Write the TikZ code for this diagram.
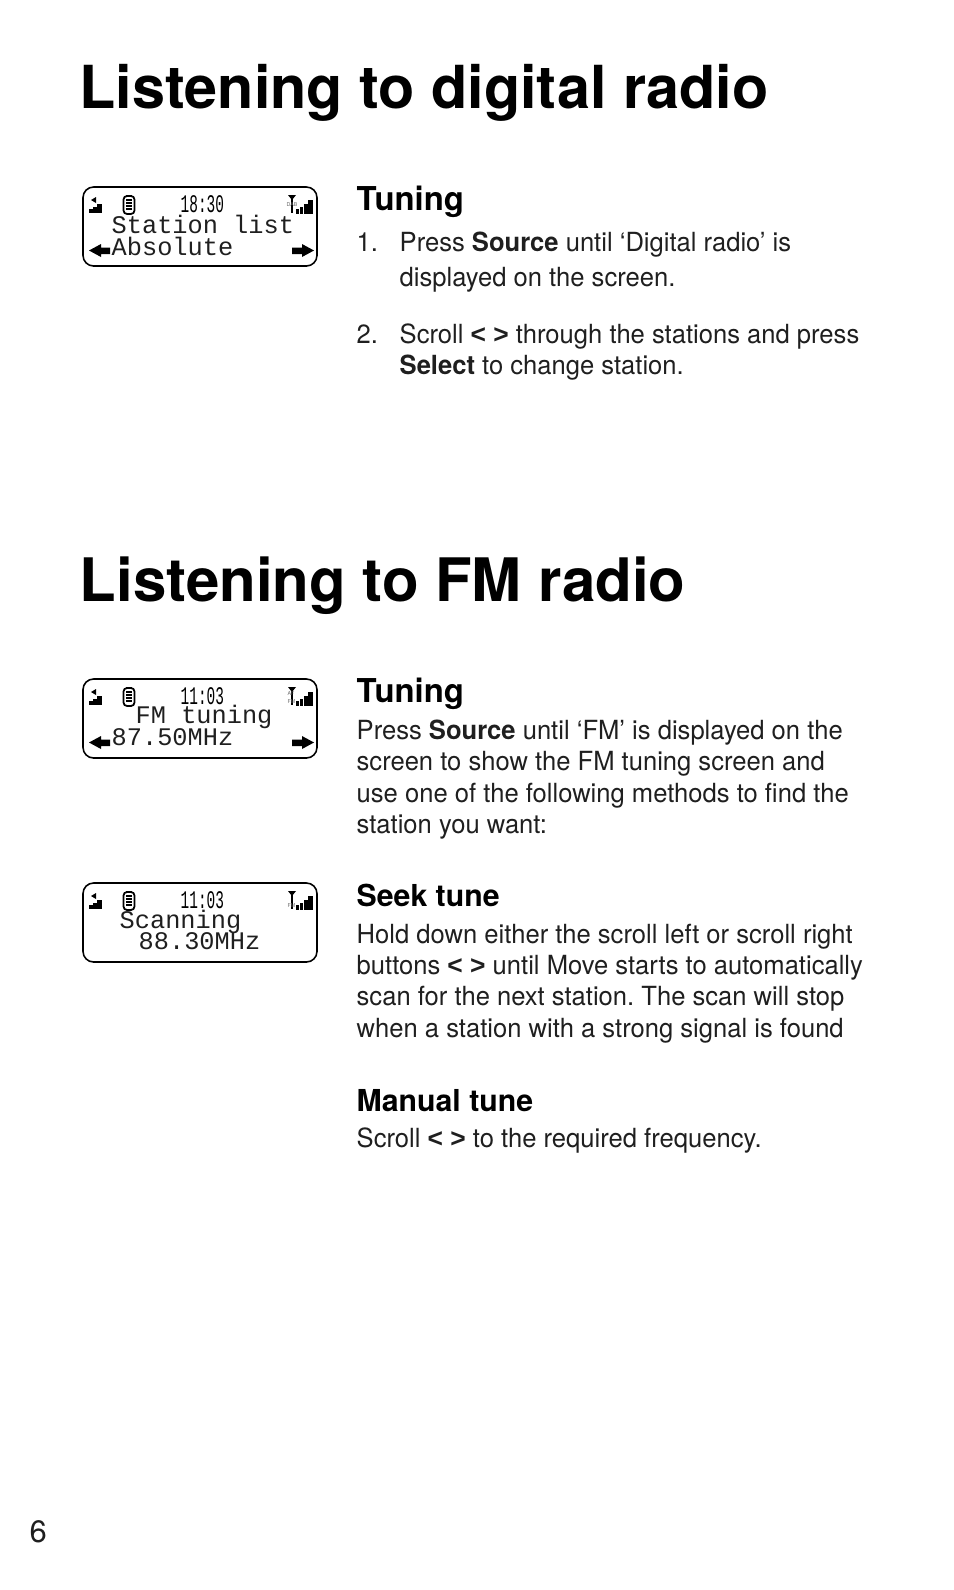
\documentclass[tikz,border=0pt]{standalone}
\usepackage{fontspec}
\setmainfont{TeX Gyre Heros}
\newfontfamily\bodyfont[FakeStretch=0.97]{TeX Gyre Heros}
\newfontfamily\markfont{Liberation Sans}
\newfontfamily\lcdfont{Liberation Mono}
\newfontfamily\lcdtimefont[FakeStretch=0.57]{Liberation Mono}
\usetikzlibrary{positioning}
\newcommand{\pagetitle}{\fontsize{16.87}{20}\selectfont\bfseries}
\newcommand{\subhead}{\fontsize{8.6}{10}\selectfont\bfseries}
\newcommand{\bodytext}{\fontsize{7.5}{9}\selectfont\bodyfont\frenchspacing}
\newcommand{\scrollmarks}{{\markfont\bfseries < >}}
\tikzset{
    titleline/.style={anchor=base west, inner sep=0pt, font=\pagetitle},
    headline/.style={anchor=base west, inner sep=0pt, font=\subhead},
    tunehead/.style={headline, font={\fontsize{9.35}{11}\selectfont\bfseries}},
    bodyline/.style={anchor=base west, inner sep=0pt, font=\bodytext, text=black!88},
    lcdline/.style={anchor=base west, inner sep=0pt, text height=4.5pt, text depth=1pt, font={\fontsize{7.2}{8}\selectfont\lcdfont}, text=black!88},
    lcdtime/.style={anchor=base west, inner sep=0pt, text height=4.5pt, text depth=0pt, font={\fontsize{7.2}{8}\selectfont\lcdtimefont}},
    lcdtiny/.style={anchor=base west, inner sep=0pt, font={\fontsize{1.5}{1.7}\selectfont}, text=black!60},
    lcd frame/.pic={
        \draw[line width=.45pt, rounded corners=3pt] (0,0) rectangle (234,79);
        % speaker and its level
        \fill (8,13) -- (13,10) -- (13,16) -- cycle;
        \fill (6,22) rectangle (9.5,26);
        \fill (10,19.5) rectangle (13.5,26);
        \fill (14,17) rectangle (19,26);
        % battery
        \draw[line width=.5pt, rounded corners=1pt] (40.5,9) rectangle (51.5,27);
        \fill (43,7.5) rectangle (49,9);
        \foreach \barpos in {12,15,18,21}
            \fill (43,\barpos) rectangle (49,\barpos+2.2);
        % aerial and signal
        \draw[line width=.6pt] (209,11) -- (209,26);
        \fill (205,8) -- (213,8) -- (209,13) -- cycle;
        \fill (213,22) rectangle (216,26.5);
        \fill (216.5,20) rectangle (220,26.5);
        \fill (220.5,17) rectangle (224.5,26.5);
        \fill (225,13) rectangle (230,26.5);
    },
    lcd arrows/.pic={
        \fill (6,63.5) -- (18,57) -- (18,60.5) -- (27,60.5) -- (27,67) -- (18,67) -- (18,70) -- cycle;
        \fill (231,63.5) -- (219,57) -- (219,60.5) -- (209,60.5) -- (209,67) -- (219,67) -- (219,70) -- cycle;
    },
}
\begin{document}
\begin{tikzpicture}[x=0.01cm, y=-0.01cm]
    \useasboundingbox (0,0) rectangle (954,1590);

    % digital radio
    \node[titleline] (digitaltitle) at (79,108) {Listening to digital radio};
    \pic at (83,187) {lcd frame};
    \pic at (83,187) {lcd arrows};
    \node[lcdtime] (digitaltime) at (180,212) {18:30};
    \node[lcdtiny] (digitalband) at (286,206) {DAB};
    \node[lcdline] (digitalone) at (111,233) {Station list};
    \node[lcdline] (digitaltwo) at (111,255) {Absolute};

    \node[tunehead] (digitalhead) at (356,210) {Tuning};
    \node[bodyline] (stepone) at (356,251) {1.};
    \node[bodyline] (steponea) at (399,251) {Press \textbf{Source} until ‘Digital radio’ is};
    \node[bodyline] (steponeb) at (399,286) {displayed on the screen.};
    \node[bodyline] (steptwo) at (356,343) {2.};
    \node[bodyline] (steptwoa) at (399,343) {Scroll \scrollmarks{} through the stations and press};
    \node[bodyline] (steptwob) at (399,374) {\textbf{Select} to change station.};

    % fm radio
    \node[titleline, font={\fontsize{17.05}{20}\selectfont\bfseries}] (fmtitle) at (79,601) {Listening to FM radio};
    \pic at (83,679) {lcd frame};
    \pic at (83,679) {lcd arrows};
    \node[lcdtime] (fmtime) at (180,704) {11:03};
    \node[lcdtiny] (fmbanda) at (287,695) {AF};
    \node[lcdtiny] (fmbandb) at (287,703) {FM};
    \node[lcdline] (fmone) at (135,723) {FM tuning};
    \node[lcdline] (fmtwo) at (111,745) {87.50MHz};

    \node[tunehead] (fmhead) at (356,702) {Tuning};
    \node[bodyline] (fma) at (356,739) {Press \textbf{Source} until ‘FM’ is displayed on the};
    \node[bodyline] (fmb) at (356,770) {screen to show the FM tuning screen and};
    \node[bodyline] (fmc) at (356,802) {use one of the following methods to find the};
    \node[bodyline] (fmd) at (356,833) {station you want:};

    % seek tune
    \pic at (83,883) {lcd frame};
    \node[lcdtime] (seektime) at (180,908) {11:03};
    \node[lcdtiny] (seekband) at (287,907) {FM};
    \node[lcdline] (seekone) at (119,928) {Scanning};
    \node[lcdline] (seektwo) at (138,949) {88.30MHz};

    \node[headline] (seekhead) at (356,906) {Seek tune};
    \node[bodyline] (seeka) at (356,943) {Hold down either the scroll left or scroll right};
    \node[bodyline] (seekb) at (356,974) {buttons \scrollmarks{} until Move starts to automatically};
    \node[bodyline] (seekc) at (356,1005) {scan for the next station. The scan will stop};
    \node[bodyline] (seekd) at (356,1037) {when a station with a strong signal is found};

    % manual tune
    \node[headline] (manualhead) at (356,1111) {Manual tune};
    \node[bodyline] (manuala) at (356,1147) {Scroll \scrollmarks{} to the required frequency.};

    \node[bodyline, font={\fontsize{8.8}{10}\selectfont}] (pagenumber) at (29,1542) {6};
\end{tikzpicture}
\end{document}
